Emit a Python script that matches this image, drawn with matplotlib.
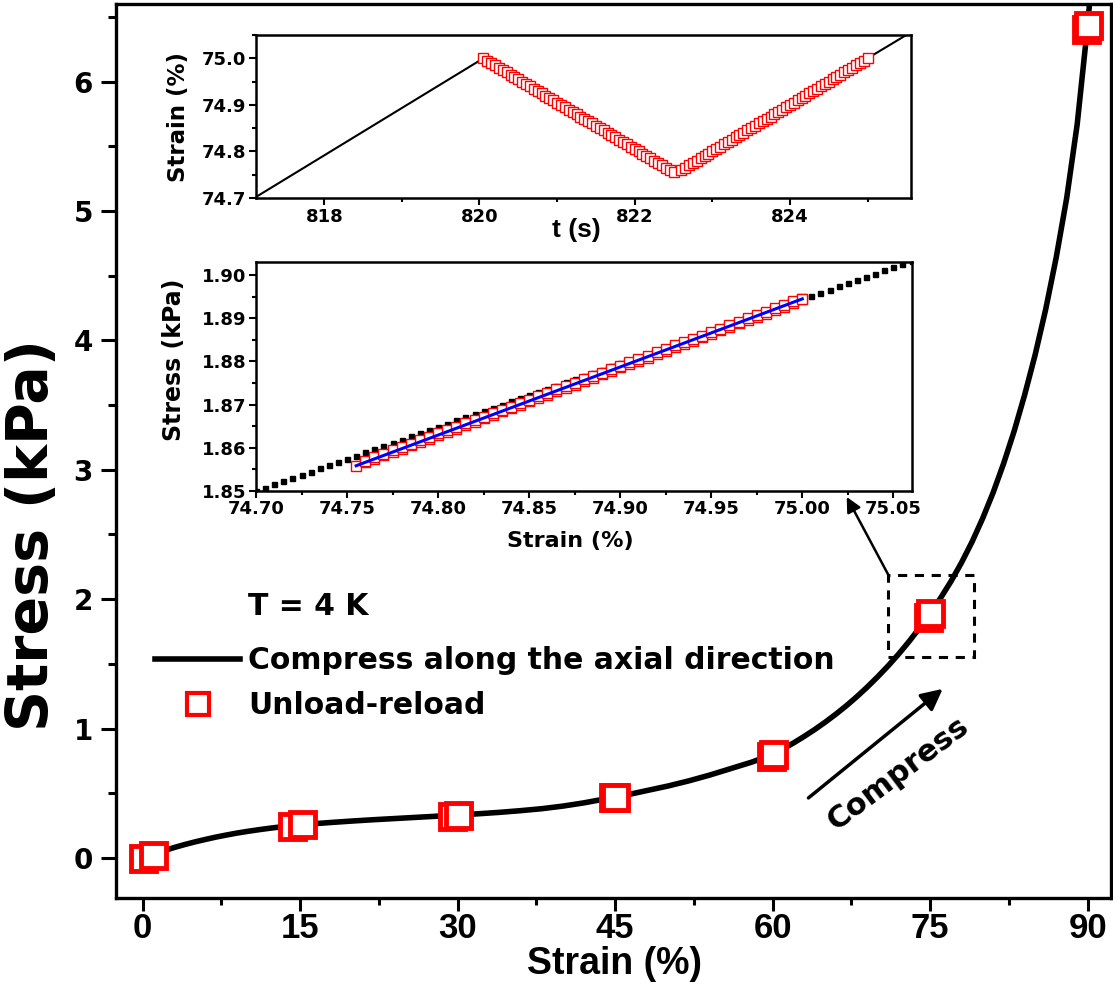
import matplotlib
matplotlib.use("Agg")
import matplotlib.pyplot as plt
from matplotlib.patches import Rectangle
from matplotlib.lines import Line2D
from matplotlib.ticker import MultipleLocator, FormatStrFormatter

# --- main curve: compression along the axial direction (T = 4 K)
strain_main = [0, 1, 2, 3, 4, 5, 6, 7, 8, 9, 10, 11, 12, 13, 14, 15, 16, 18, 20, 22, 24, 26, 28,
               30, 32, 34, 36, 38, 40, 42, 44, 46, 48, 50, 52, 54, 56, 58, 60, 61, 62, 63, 64,
               65, 66, 67, 68, 69, 70, 71, 72, 73, 74, 75, 76, 77, 78, 79, 80, 81, 82, 83, 84,
               85, 86, 87, 88, 89, 90, 90.5, 91]
stress_main = [0.000, 0.028, 0.055, 0.080, 0.103, 0.124, 0.143, 0.161, 0.177, 0.192, 0.205,
               0.217, 0.228, 0.238, 0.247, 0.255, 0.262, 0.274, 0.285, 0.295, 0.304, 0.313,
               0.322, 0.331, 0.341, 0.352, 0.365, 0.380, 0.400, 0.425, 0.455, 0.485, 0.520,
               0.555, 0.595, 0.640, 0.690, 0.740, 0.800, 0.843, 0.889, 0.939, 0.992, 1.049,
               1.110, 1.175, 1.245, 1.320, 1.400, 1.485, 1.576, 1.674, 1.779, 1.891, 2.010,
               2.140, 2.285, 2.445, 2.625, 2.825, 3.050, 3.300, 3.580, 3.890, 4.240, 4.640,
               5.100, 5.670, 6.440, 6.900, 7.400]

# --- unload-reload loops in the main panel (start / end of each loop)
ur_strain_main = [0.0, 1.0, 14.2, 15.2, 29.5, 30.0, 44.8, 45.0, 59.8, 60.0, 74.75, 75.0, 89.8, 90.0]
ur_stress_main = [0.0, 0.02, 0.25, 0.26, 0.32, 0.33, 0.47, 0.47, 0.79, 0.80, 1.86, 1.89, 6.41, 6.44]

# --- inset 1: strain vs time
t_line = [817.0, 820.05, 822.55, 825.0, 825.6]
strain_line = [74.69, 75.0, 74.755, 75.0, 75.06]

t_unload = [820.05, 820.10, 820.15, 820.20, 820.25, 820.30, 820.35, 820.40, 820.45, 820.50,
            820.55, 820.60, 820.65, 820.70, 820.75, 820.80, 820.85, 820.90, 820.95, 821.00,
            821.05, 821.10, 821.15, 821.20, 821.25, 821.30, 821.35, 821.40, 821.45, 821.50,
            821.55, 821.60, 821.65, 821.70, 821.75, 821.80, 821.85, 821.90, 821.95, 822.00,
            822.05, 822.10, 822.15, 822.20, 822.25, 822.30, 822.35, 822.40, 822.45, 822.50]
strain_unload = [75.000, 74.995, 74.990, 74.985, 74.980, 74.975, 74.970, 74.965, 74.960, 74.955,
                 74.950, 74.945, 74.940, 74.935, 74.930, 74.925, 74.920, 74.915, 74.910, 74.905,
                 74.900, 74.895, 74.890, 74.885, 74.880, 74.875, 74.870, 74.865, 74.860, 74.855,
                 74.850, 74.845, 74.840, 74.835, 74.830, 74.825, 74.820, 74.815, 74.810, 74.805,
                 74.800, 74.795, 74.790, 74.785, 74.780, 74.775, 74.770, 74.765, 74.760, 74.755]
stress_unload = [1.8945, 1.8935, 1.8927, 1.8919, 1.8911, 1.8903, 1.8896, 1.8888, 1.8880, 1.8872,
                 1.8864, 1.8856, 1.8848, 1.8841, 1.8833, 1.8825, 1.8817, 1.8809, 1.8801, 1.8794,
                 1.8786, 1.8778, 1.8770, 1.8762, 1.8754, 1.8746, 1.8739, 1.8731, 1.8723, 1.8715,
                 1.8707, 1.8699, 1.8691, 1.8684, 1.8676, 1.8668, 1.8660, 1.8652, 1.8644, 1.8637,
                 1.8629, 1.8621, 1.8613, 1.8605, 1.8597, 1.8590, 1.8582, 1.8574, 1.8566, 1.8558]

t_reload = [822.60, 822.65, 822.70, 822.75, 822.80, 822.85, 822.90, 822.95, 823.00, 823.05,
            823.10, 823.15, 823.20, 823.25, 823.30, 823.35, 823.40, 823.45, 823.50, 823.55,
            823.60, 823.65, 823.70, 823.75, 823.80, 823.85, 823.90, 823.95, 824.00, 824.05,
            824.10, 824.15, 824.20, 824.25, 824.30, 824.35, 824.40, 824.45, 824.50, 824.55,
            824.60, 824.65, 824.70, 824.75, 824.80, 824.85, 824.90, 824.95, 825.00]
strain_reload = [74.760, 74.765, 74.770, 74.775, 74.780, 74.785, 74.790, 74.795, 74.800, 74.805,
                 74.810, 74.815, 74.820, 74.825, 74.830, 74.835, 74.840, 74.845, 74.850, 74.855,
                 74.860, 74.865, 74.870, 74.875, 74.880, 74.885, 74.890, 74.895, 74.900, 74.905,
                 74.910, 74.915, 74.920, 74.925, 74.930, 74.935, 74.940, 74.945, 74.950, 74.955,
                 74.960, 74.965, 74.970, 74.975, 74.980, 74.985, 74.990, 74.995, 75.000]
stress_reload = [1.8570, 1.8578, 1.8586, 1.8594, 1.8601, 1.8609, 1.8617, 1.8625, 1.8633, 1.8641,
                 1.8648, 1.8656, 1.8664, 1.8672, 1.8680, 1.8688, 1.8695, 1.8703, 1.8711, 1.8719,
                 1.8727, 1.8735, 1.8743, 1.8750, 1.8758, 1.8766, 1.8774, 1.8782, 1.8790, 1.8798,
                 1.8805, 1.8813, 1.8821, 1.8829, 1.8837, 1.8845, 1.8852, 1.8860, 1.8868, 1.8876,
                 1.8884, 1.8892, 1.8900, 1.8907, 1.8915, 1.8923, 1.8931, 1.8939, 1.8945]

# --- inset 2: compression data around 75 %
strain_comp = [74.700, 74.705, 74.710, 74.715, 74.720, 74.725, 74.730, 74.735, 74.740, 74.745,
               74.750, 74.755, 74.760, 74.765, 74.770, 74.775, 74.780, 74.785, 74.790, 74.795,
               74.800, 74.805, 74.810, 74.815, 74.820, 74.825, 74.830, 74.835, 74.840, 74.845,
               74.850, 74.855, 74.860, 74.865, 74.870, 74.875, 74.880, 74.885, 74.890, 74.895,
               74.900, 74.905, 74.910, 74.915, 74.920, 74.925, 74.930, 74.935, 74.940, 74.945,
               74.950, 74.955, 74.960, 74.965, 74.970, 74.975, 74.980, 74.985, 74.990, 74.995,
               75.000, 75.005, 75.010, 75.015, 75.020, 75.025, 75.030, 75.035, 75.040, 75.045,
               75.050, 75.055, 75.060]
stress_comp = [1.8500, 1.8507, 1.8515, 1.8522, 1.8530, 1.8537, 1.8544, 1.8552, 1.8559, 1.8567,
               1.8574, 1.8581, 1.8589, 1.8596, 1.8604, 1.8611, 1.8618, 1.8626, 1.8633, 1.8641,
               1.8648, 1.8655, 1.8663, 1.8670, 1.8678, 1.8685, 1.8692, 1.8700, 1.8707, 1.8715,
               1.8722, 1.8729, 1.8737, 1.8744, 1.8752, 1.8759, 1.8766, 1.8774, 1.8781, 1.8789,
               1.8796, 1.8803, 1.8811, 1.8818, 1.8826, 1.8833, 1.8840, 1.8848, 1.8855, 1.8863,
               1.8870, 1.8877, 1.8885, 1.8892, 1.8900, 1.8907, 1.8914, 1.8922, 1.8929, 1.8937,
               1.8944, 1.8951, 1.8959, 1.8966, 1.8974, 1.8981, 1.8988, 1.8996, 1.9003, 1.9011,
               1.9018, 1.9025, 1.9033]

# linear fit of the unload-reload loop
fit_strain = [74.755, 75.000]
fit_stress = [1.8558, 1.8945]

RED = "#ff0000"
BLUE = "#0000ff"
ARIAL = ["Liberation Sans", "DejaVu Sans"]

plt.rcParams["font.family"] = ["DejaVu Sans"]
plt.rcParams["font.weight"] = "bold"

fig = plt.figure(figsize=(11.13, 9.92), dpi=100)
ax = fig.add_axes([0.104, 0.0948, 0.894, 0.901])

ax.plot(strain_main, stress_main, color="black", lw=4, zorder=2, solid_capstyle="round")
ax.plot(ur_strain_main, ur_stress_main, ls="none", marker="s", ms=18, mew=3.5,
        mec=RED, mfc="white", zorder=3)

ax.set_xlim(-2.57, 92.2)
ax.set_ylim(-0.31, 6.6)
ax.set_xticks([0, 15, 30, 45, 60, 75, 90], ["0", "15", "30", "45", "60", "75", "90"],
              fontfamily=ARIAL, fontsize=25, fontweight="bold")
ax.xaxis.set_minor_locator(MultipleLocator(7.5))
ax.yaxis.set_major_locator(MultipleLocator(1))
ax.yaxis.set_minor_locator(MultipleLocator(0.5))
ax.tick_params(axis="y", which="major", labelsize=20, length=11, width=2.2, pad=5.5)
ax.tick_params(axis="y", which="minor", length=6, width=2.2)
ax.tick_params(axis="x", which="major", length=9, width=2.2, pad=1)
ax.tick_params(axis="x", which="minor", length=5, width=2.2)
for s in ax.spines.values():
    s.set_linewidth(2.4)

ax.set_xlabel("Strain (%)", fontsize=27, fontweight="bold", family=ARIAL)
ax.xaxis.set_label_coords(0.5015, -0.0537)
ax.set_ylabel("Stress (kPa)", fontsize=41, fontweight="bold")
ax.yaxis.set_label_coords(-0.0565, 0.406)

# legend
ax.text(10.0, 1.94, "T = 4 K", fontsize=21.5, fontweight="bold", va="center", ha="left")
handles = [Line2D([], [], color="black", lw=4),
           Line2D([], [], ls="none", marker="s", ms=16, mew=3, mec=RED, mfc="white")]
ax.legend(handles, ["Compress along the axial direction", "Unload-reload"],
          loc="upper left", bbox_to_anchor=(155 / 1113, (992 - 646) / 992),
          bbox_transform=fig.transFigure, frameon=False, fontsize=21.5,
          handlelength=2.85, handletextpad=0.28, labelspacing=0.55, borderpad=0,
          borderaxespad=0, numpoints=1)

# compress arrow and label
ax.annotate("", xy=(76.4, 1.32), xytext=(63.2, 0.45),
            arrowprops=dict(arrowstyle="-|>", lw=2.5, color="black", mutation_scale=32))
ax.text(72.0, 0.65, "Compress", rotation=37, fontsize=22, fontweight="bold",
        ha="center", va="center", rotation_mode="anchor")

# zoom box and connector to inset
ax.add_patch(Rectangle((71.0, 1.55), 8.2, 0.64, fill=False, ls=(0, (3, 2.5)), lw=2.2,
                       edgecolor="black", zorder=4))
ax.annotate("", xy=(67.05, 2.79), xytext=(71.0, 2.19),
            arrowprops=dict(arrowstyle="-|>", lw=1.8, color="black", mutation_scale=22,
                            shrinkA=0, shrinkB=0))

# --- inset 1
ax1 = fig.add_axes([0.230, 0.8004, 0.5885, 0.1643])
ax1.plot(t_line, strain_line, color="black", lw=1.5, zorder=1)
ax1.plot(t_unload, strain_unload, ls="none", marker="s", ms=6.5, mew=1.0, mec=RED, mfc="white")
ax1.plot(t_reload, strain_reload, ls="none", marker="s", ms=6.5, mew=1.0, mec=RED, mfc="white")
ax1.set_xlim(817.12, 825.56)
ax1.set_ylim(74.7, 75.05)
ax1.xaxis.set_major_locator(MultipleLocator(2))
ax1.xaxis.set_minor_locator(MultipleLocator(1))
ax1.yaxis.set_major_locator(MultipleLocator(0.1))
ax1.yaxis.set_minor_locator(MultipleLocator(0.05))
ax1.yaxis.set_major_formatter(FormatStrFormatter("%.1f"))
ax1.xaxis.set_major_formatter(FormatStrFormatter("%d"))
ax1.tick_params(which="major", labelsize=13, length=5, width=1.5, pad=2)
ax1.tick_params(which="minor", length=3, width=1.5)
for s in ax1.spines.values():
    s.set_linewidth(1.8)
ax1.set_xlabel("t (s)", fontsize=19, fontweight="bold", family=ARIAL)
ax1.xaxis.set_label_coords(0.4885, -0.12)
ax1.set_ylabel("Strain (%)", fontsize=16.5, fontweight="bold")
ax1.yaxis.set_label_coords(-0.1015, 0.5)

# --- inset 2
ax2 = fig.add_axes([0.230, 0.5053, 0.589, 0.2308])
ax2.plot(strain_comp, stress_comp, ls="none", marker="s", ms=3.6, color="black", zorder=1)
ax2.plot(strain_unload, stress_unload, ls="none", marker="s", ms=7.2, mew=1.0, mec=RED,
         mfc="white", zorder=2)
ax2.plot(strain_reload, stress_reload, ls="none", marker="s", ms=7.2, mew=1.0, mec=RED,
         mfc="white", zorder=2)
ax2.plot(fit_strain, fit_stress, color=BLUE, lw=2.2, zorder=3)
ax2.set_xlim(74.70, 75.06)
ax2.set_ylim(1.85, 1.9031)
ax2.xaxis.set_major_locator(MultipleLocator(0.05))
ax2.xaxis.set_minor_locator(MultipleLocator(0.025))
ax2.yaxis.set_major_locator(MultipleLocator(0.01))
ax2.yaxis.set_minor_locator(MultipleLocator(0.005))
ax2.xaxis.set_major_formatter(FormatStrFormatter("%.2f"))
ax2.yaxis.set_major_formatter(FormatStrFormatter("%.2f"))
ax2.tick_params(which="major", labelsize=13, length=5, width=1.5, pad=2)
ax2.tick_params(which="minor", length=3, width=1.5)
for s in ax2.spines.values():
    s.set_linewidth(1.8)
ax2.set_xlabel("Strain (%)", fontsize=16, fontweight="bold")
ax2.xaxis.set_label_coords(0.479, -0.176)
ax2.set_ylabel("Stress (kPa)", fontsize=17, fontweight="bold")
ax2.yaxis.set_label_coords(-0.1075, 0.571)

fig.savefig("out.png", dpi=100)
